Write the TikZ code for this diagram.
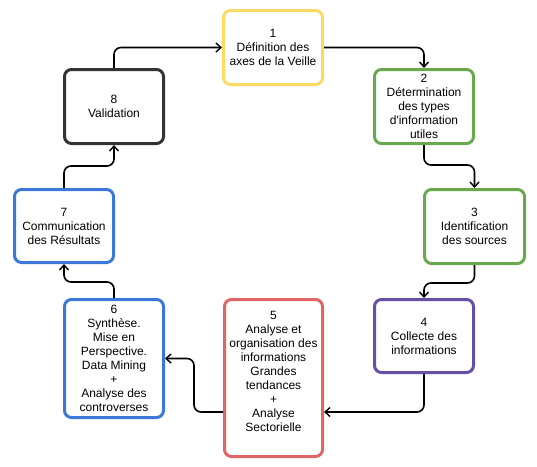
\documentclass[tikz,border=0pt]{standalone}
\usepackage{fontspec}
\setmainfont{Liberation Sans}
\usetikzlibrary{arrows.meta,calc}
\definecolor{cyellow}{HTML}{FFD966}
\definecolor{cgreen}{HTML}{6AA84F}
\definecolor{cpurple}{HTML}{674EA7}
\definecolor{cred}{HTML}{E06666}
\definecolor{cblue}{HTML}{3C78D8}
\definecolor{cdark}{HTML}{333333}
\begin{document}
\begin{tikzpicture}[x=1pt,y=-1pt,
  box/.style={draw, line width=3pt, rounded corners=7pt, fill=white, align=center,
    inner sep=0pt, font=\fontsize{12}{14}\selectfont},
  conn/.style={draw=black, line width=1.6pt, rounded corners=7pt,
    -{Straight Barb[length=5pt,width=9pt,line width=1.4pt]}}]
\useasboundingbox (0,0) rectangle (537,466);
\node[box, draw=cyellow, minimum width=99pt, minimum height=74pt] (b1) at (273,47.5) {1\\Définition des\\axes de la Veille};
\node[box, draw=cgreen, minimum width=99pt, minimum height=74pt] (b2) at (424,106.5) {2\\Détermination\\des types\\d\textquotesingle information\\utiles};
\node[box, draw=cgreen, minimum width=100pt, minimum height=74pt] (b3) at (474.5,226.5) {3\\Identification\\des sources};
\node[box, draw=cpurple, minimum width=99pt, minimum height=73pt] (b4) at (424,336) {4\\Collecte des\\informations};
\node[box, draw=cred, minimum width=98pt, minimum height=157pt] (b5) at (273.5,378) {5\\Analyse et\\organisation des\\informations\\Grandes\\tendances\\+\\Analyse\\Sectorielle\\ \mbox{}};
\node[box, draw=cblue, minimum width=99pt, minimum height=118pt] (b6) at (114,358.5) {6\\Synthèse.\\Mise en\\Perspective.\\Data Mining\\+\\Analyse des\\controverses};
\node[box, draw=cblue, minimum width=99pt, minimum height=73pt] (b7) at (64,226) {7\\Communication\\des Résultats};
\node[box, draw=cdark, minimum width=99pt, minimum height=74pt] (b8) at (114,106.5) {8\\Validation};
\coordinate (m23) at (450,165);
\coordinate (m34) at (450,283);
\coordinate (m45) at (424,412);
\coordinate (m56) at (194,385);
\coordinate (m67) at (90,282);
\coordinate (m78) at (90,166);
\draw[conn] (b8.north) |- (b1.west);
\draw[conn] (b1.east) -| (b2.north);
\draw[conn] (b2.south) |- (m23) -| (b3.north);
\draw[conn] (b3.south) |- (m34) -| (b4.north);
\draw[conn] (b4.south) |- (b5.east |- m45);
\draw[conn] (b5.west |- m45) -| (m56) |- (b6.east);
\draw[conn] (b6.north) |- (m67) -| (b7.south);
\draw[conn] (b7.north) |- (m78) -| (b8.south);
\end{tikzpicture}
\end{document}
